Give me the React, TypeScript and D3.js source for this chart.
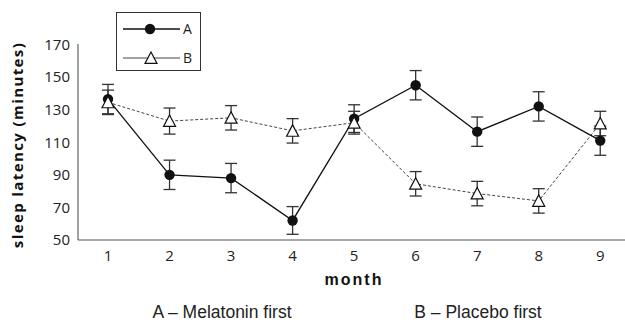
import * as d3 from "d3";

const months = [1, 2, 3, 4, 5, 6, 7, 8, 9];
const yTicks = [50, 70, 90, 110, 130, 150, 170];

// group A - melatonin first
const aMean = [136.5, 90, 88, 62, 124.5, 145, 116.5, 132, 111];
const aErr = [9, 9, 9, 8.5, 8.5, 9, 9, 9, 9];
// group B - placebo first
const bMean = [134.5, 123, 125, 117, 122, 84.5, 78.5, 74, 121.5];
const bErr = [7.5, 8, 7.5, 7.5, 7, 7.5, 7.5, 7.5, 7.5];

const width = 625;
const height = 323;

const tickFont = "'Open Sans', sans-serif";
const capFont = "'Liberation Sans', Arial, sans-serif";

const triangle = (cx: number, cy: number, s = 6) =>
  `M${cx},${cy - s} L${cx + s},${cy + s * 0.9} L${cx - s},${cy + s * 0.9} Z`;

export default function App() {
  const x = d3.scaleLinear().domain([0.5, 9.5]).range([77.25, 631]);
  const y = d3.scaleLinear().domain([50, 170]).range([240, 44.5]);

  const line = d3
    .line<number>()
    .x((_, i) => x(months[i]))
    .y((d) => y(d));

  const errBars = (means: number[], errs: number[], key: string) =>
    means.map((m, i) => {
      const cx = x(months[i]);
      const top = y(m + errs[i]);
      const bot = y(m - errs[i]);
      return (
        <g key={key + i} stroke="#333" strokeWidth={1.3}>
          <line x1={cx} x2={cx} y1={top} y2={bot} />
          <line x1={cx - 6} x2={cx + 6} y1={top} y2={top} />
          <line x1={cx - 6} x2={cx + 6} y1={bot} y2={bot} />
        </g>
      );
    });

  return (
    <svg
      width={width}
      height={height}
      style={{ position: "absolute", left: 0, top: 0, background: "white" }}
    >
      {/* axes */}
      <line x1={78} x2={78} y1={44} y2={240} stroke="#444" strokeWidth={1} />
      <line x1={78} x2={625} y1={240} y2={240} stroke="#555" strokeWidth={1.2} />

      {yTicks.map((t) => (
        <text
          key={t}
          x={70}
          y={y(t)}
          dy="0.35em"
          textAnchor="end"
          fontFamily={tickFont}
          fontSize={15}
          fill="#222"
        >
          {t}
        </text>
      ))}
      {months.map((m) => (
        <text
          key={m}
          x={x(m)}
          y={256}
          dy="0.35em"
          textAnchor="middle"
          fontFamily={tickFont}
          fontSize={15}
          fill="#222"
        >
          {m}
        </text>
      ))}

      <text
        x={354}
        y={285}
        textAnchor="middle"
        fontFamily={capFont}
        fontWeight="bold"
        fontSize={16}
        letterSpacing={2}
        fill="#111"
      >
        month
      </text>
      <text
        transform="translate(23,145) rotate(-90)"
        textAnchor="middle"
        fontFamily={tickFont}
        fontWeight="bold"
        fontSize={15}
        letterSpacing={1.4}
        fill="#111"
      >
        sleep latency (minutes)
      </text>

      {/* series B */}
      <path
        d={line(bMean) ?? ""}
        fill="none"
        stroke="#444"
        strokeWidth={1}
        strokeDasharray="3,2"
      />
      {errBars(bMean, bErr, "b")}

      {/* series A */}
      <path d={line(aMean) ?? ""} fill="none" stroke="#111" strokeWidth={1.3} />
      {errBars(aMean, aErr, "a")}
      {aMean.map((m, i) => (
        <circle key={"ca" + i} cx={x(months[i])} cy={y(m)} r={5.2} fill="#111" />
      ))}
      {bMean.map((m, i) => (
        <path
          key={"tb" + i}
          d={triangle(x(months[i]), y(m))}
          fill="white"
          stroke="#111"
          strokeWidth={1.2}
        />
      ))}

      {/* legend */}
      <rect x={116.5} y={12.5} width={84} height={58} fill="white" stroke="#333" strokeWidth={1} />
      <line x1={123} x2={180} y1={29} y2={29} stroke="#111" strokeWidth={1.3} />
      <circle cx={150} cy={29} r={5.2} fill="#111" />
      <text x={183} y={29} dy="0.35em" fontFamily={tickFont} fontSize={14} fill="#222">
        A
      </text>
      <line x1={123} x2={180} y1={58} y2={58} stroke="#444" strokeWidth={1} />
      <path d={triangle(151, 58)} fill="white" stroke="#111" strokeWidth={1.2} />
      <text x={183} y={58} dy="0.35em" fontFamily={tickFont} fontSize={14} fill="#222">
        B
      </text>

      {/* captions */}
      <text x={222} y={318} textAnchor="middle" fontFamily={capFont} fontSize={17.5} fill="#222">
        A – Melatonin first
      </text>
      <text x={478} y={318} textAnchor="middle" fontFamily={capFont} fontSize={17.5} fill="#222">
        B – Placebo first
      </text>
    </svg>
  );
}
